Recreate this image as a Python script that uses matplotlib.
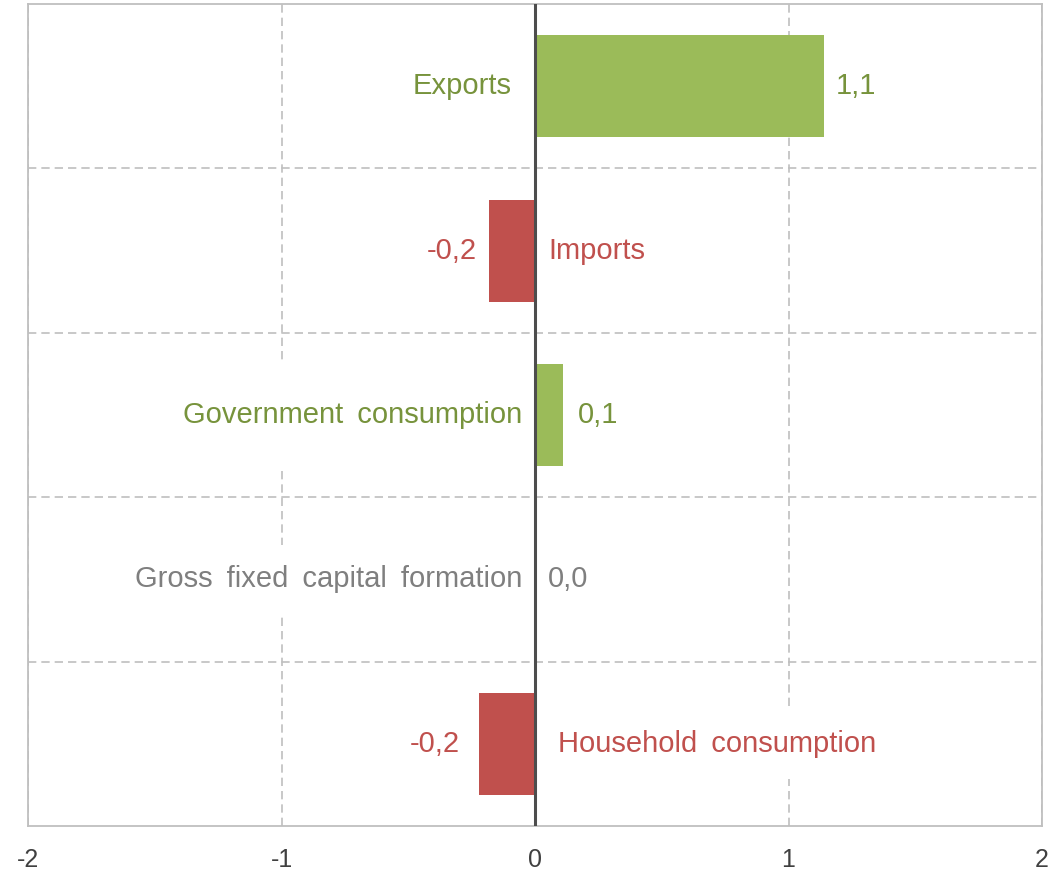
import numpy as np
import matplotlib.pyplot as plt

plt.rcParams['font.family'] = ['Liberation Sans', 'DejaVu Sans']

# contributions, bottom to top
categories = ['Household consumption', 'Gross fixed capital formation',
              'Government consumption', 'Imports', 'Exports']
values = [-0.22, 0.0, 0.11, -0.18, 1.14]
xticks = [-2, -1, 0, 1, 2]
xticklabels = ['-2', '-1', '0', '1', '2']

GREEN = '#9BBB59'
GREEN_TXT = '#77933C'
RED = '#C0504D'
GREY_TXT = '#7F7F7F'

# px offsets of the name (from zero) and value (from bar end), white box pad in pt
name_off = [23, 13, 13, 13, 23]
val_off = [19, 13, 15, 12, 12]
box_pad = [15, 15, 29, 4, 4]

fig = plt.figure(figsize=(10.59, 8.73), dpi=100)
ax = fig.add_axes([28/1059, 47/873, 1014/1059, 822/873])

y = np.arange(len(categories))
bar_cols = [GREEN if v > 0 else RED for v in values]
ax.barh(y, values, height=0.62, color=bar_cols, zorder=5)
ax.axvline(0, color='#4D4D4D', lw=2.2, zorder=6)

px = 72 / 100  # points per pixel
for i, (name, v) in enumerate(zip(categories, values)):
    if v > 0:
        tc = GREEN_TXT
    elif v < 0:
        tc = RED
    else:
        tc = GREY_TXT
    lbl = f'{v:.1f}'.replace('.', ',')
    shown = name.replace(' ', ' \u2009')  # wider word gaps
    box = dict(boxstyle=f'square,pad={box_pad[i]/21:.2f}', fc='white', ec='none')
    if v < 0:
        # value to the left of the bar, name right of the zero line
        ax.annotate(lbl, (v, i), xytext=(-val_off[i]*px, 0), textcoords='offset points',
                    ha='right', va='center', fontsize=21, color=tc, zorder=4)
        ax.annotate(shown, (0, i), xytext=(name_off[i]*px, 0), textcoords='offset points',
                    ha='left', va='center', fontsize=21, color=tc, zorder=4, bbox=box)
    else:
        ax.annotate(lbl, (v, i), xytext=(val_off[i]*px, 0), textcoords='offset points',
                    ha='left', va='center', fontsize=21, color=tc, zorder=4)
        ax.annotate(shown, (0, i), xytext=(-name_off[i]*px, 0), textcoords='offset points',
                    ha='right', va='center', fontsize=21, color=tc, zorder=4, bbox=box)

ax.set_xlim(-2, 2)
ax.set_ylim(-0.5, len(categories) - 0.5)
ax.set_xticks(xticks)
ax.set_xticklabels(xticklabels, fontsize=18, color='#404040')
ax.set_yticks([])
ax.set_yticks(np.arange(len(categories) - 1) + 0.5, minor=True)
ax.tick_params(axis='both', which='both', length=0)
ax.tick_params(axis='x', pad=15.5)

ax.set_axisbelow(True)
ax.grid(axis='y', which='minor', color='#BFBFBF', lw=1.2, linestyle=(0, (5, 3)))
ax.grid(axis='x', which='major', color='#BFBFBF', lw=1.2, linestyle=(0, (5, 3)))

for s in ax.spines.values():
    s.set_color('#BFBFBF')
    s.set_linewidth(1.3)

fig.savefig('out.png', dpi=100)
